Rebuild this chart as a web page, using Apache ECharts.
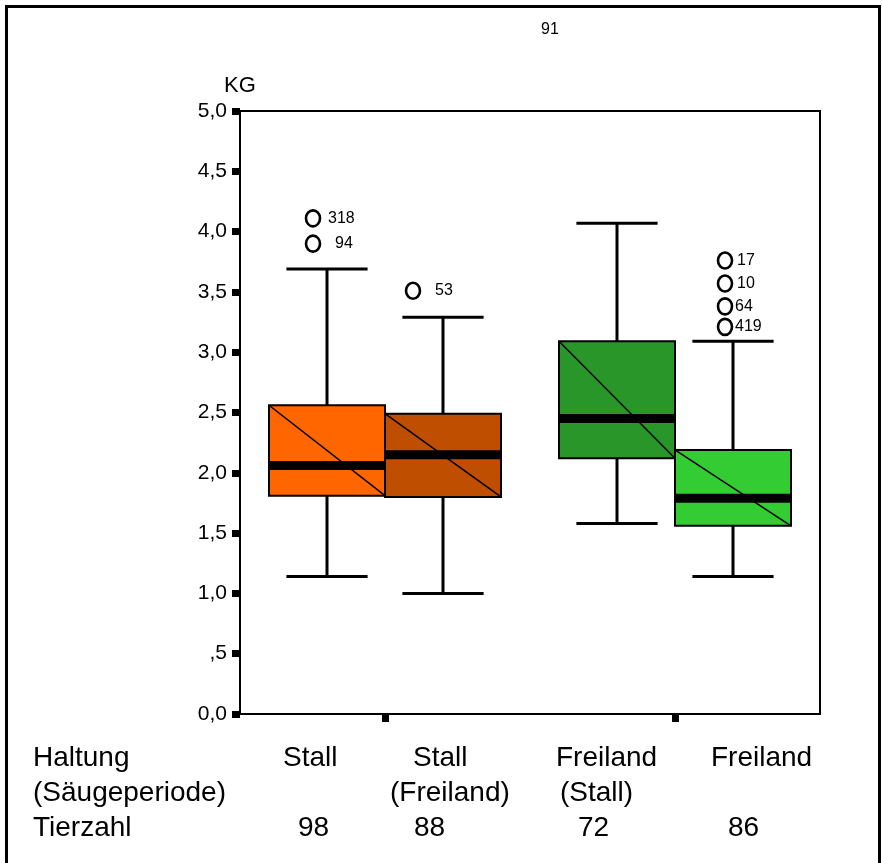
<!DOCTYPE html>
<html><head><meta charset="utf-8">
<script src="https://cdn.jsdelivr.net/npm/echarts@6/dist/echarts.min.js"></script>
<style>html,body{margin:0;padding:0;background:#fff}#c{width:882px;height:863px}</style>
</head><body><div id="c"></div>
<script>
// ---- data ----
const clusters = ['Stall', 'Freiland'];
const clusterIndex = [0, 0, 1, 1];
const subIndex = [0, 1, 0, 1];
const whiskerLow = [1.14, 1.00, 1.58, 1.14];
const q1 = [1.81, 1.80, 2.12, 1.56];
const median = [2.06, 2.15, 2.45, 1.79];
const q3 = [2.56, 2.49, 3.09, 2.19];
const whiskerHigh = [3.69, 3.29, 4.07, 3.09];
const tierzahl = [98, 88, 72, 86];
const outlierBox = [0, 0, 1, 3, 3, 3, 3];
const outlierValue = [4.11, 3.90, 3.51, 3.76, 3.57, 3.38, 3.21];
const outlierId = ['318', '94', '53', '17', '10', '64', '419'];
const rowLabels = ['Haltung', '(Säugeperiode)', 'Tierzahl'];
const haltung = ['Stall', 'Stall', 'Freiland', 'Freiland'];
const saugeperiode = ['', '(Freiland)', '(Stall)', ''];
const yMin = 0, yMax = 5, yStep = 0.5;

// ---- styles ----
const boxColors = ['#ff6600', '#c04e00', '#289628', '#33cc33'];
const outlierDx = [-14, -30, 0, -8];
const outlierLabelDx = [[15, 22], [22], [], [12, 12, 10, 10]];
const colX1 = [283, 413, 556, 711];
const colX2 = [0, 390, 560, 0];
const colX3 = [298, 414, 578, 728];

const boxData = clusterIndex.map((c, i) => [c, subIndex[i], whiskerLow[i], q1[i], median[i], q3[i], whiskerHigh[i]]);
const outData = outlierValue.map((v, i) => [clusterIndex[outlierBox[i]], subIndex[outlierBox[i]], v, i]);

function boxGeom(api, c, s) {
  const center = api.coord([c, 0])[0];
  const bw = api.size([1, 0])[0];
  const w = bw * 0.4;
  const left = center - bw * 0.4 + s * w;
  return {left, w, mid: left + w / 2};
}

function renderBox(params, api) {
  const c = api.value(0), s = api.value(1);
  const g = boxGeom(api, c, s);
  const y = v => api.coord([c, v])[1];
  const yLo = y(api.value(2)), yQ1 = y(api.value(3)), yMed = y(api.value(4)), yQ3 = y(api.value(5)), yHi = y(api.value(6));
  const capW = g.w * 0.7;
  const L = {stroke: '#000', lineWidth: 3};
  return {type: 'group', children: [
    {type: 'line', shape: {x1: g.mid, y1: yHi, x2: g.mid, y2: yQ3}, style: L},
    {type: 'line', shape: {x1: g.mid, y1: yQ1, x2: g.mid, y2: yLo}, style: L},
    {type: 'line', shape: {x1: g.mid - capW / 2, y1: yHi, x2: g.mid + capW / 2, y2: yHi}, style: L},
    {type: 'line', shape: {x1: g.mid - capW / 2, y1: yLo, x2: g.mid + capW / 2, y2: yLo}, style: L},
    {type: 'rect', shape: {x: g.left, y: yQ3, width: g.w, height: yQ1 - yQ3}, style: {fill: boxColors[params.dataIndex], stroke: '#000', lineWidth: 2}},
    {type: 'line', shape: {x1: g.left, y1: yQ3, x2: g.left + g.w, y2: yQ1}, style: {stroke: '#000', lineWidth: 1.5}},
    {type: 'line', shape: {x1: g.left, y1: yMed, x2: g.left + g.w, y2: yMed}, style: {stroke: '#000', lineWidth: 9}}
  ]};
}

function renderOut(params, api) {
  const c = api.value(0), s = api.value(1);
  const idx = api.value(3);
  const b = outlierBox[idx];
  const g = boxGeom(api, c, s);
  const yy = api.coord([c, api.value(2)])[1];
  const cx = g.mid + outlierDx[b];
  const k = outlierBox.slice(0, idx).filter(x => x === b).length;
  const ldx = (outlierLabelDx[b] && outlierLabelDx[b][k] != null) ? outlierLabelDx[b][k] : 14;
  return {type: 'group', children: [
    {type: 'ellipse', shape: {cx: cx, cy: yy, rx: 7, ry: 8}, style: {fill: '#fff', stroke: '#000', lineWidth: 2.6}},
    {type: 'text', style: {x: cx + ldx, y: yy, text: outlierId[idx], fill: '#000', font: '16px "Liberation Sans", Arial, sans-serif', textVerticalAlign: 'middle', textAlign: 'left'}}
  ]};
}

const txtFont = '28px "Liberation Sans", Arial, sans-serif';
const graphics = [
  {type: 'rect', left: 4, top: 4, shape: {x: 0, y: 0, width: 873, height: 900}, style: {fill: 'none', stroke: '#000', lineWidth: 3}, silent: true},
  {type: 'text', x: 541, y: 30, style: {text: '91', font: '16px "Liberation Sans", Arial, sans-serif', fill: '#000', textVerticalAlign: 'middle'}}
];
const rowY = [758, 793, 828];
rowLabels.forEach((t, i) => graphics.push({type: 'text', x: 33, y: rowY[i], style: {text: t, font: txtFont, fill: '#000', textVerticalAlign: 'middle'}}));
haltung.forEach((t, i) => graphics.push({type: 'text', x: colX1[i], y: rowY[0], style: {text: t, font: txtFont, fill: '#000', textVerticalAlign: 'middle'}}));
saugeperiode.forEach((t, i) => { if (t) graphics.push({type: 'text', x: colX2[i], y: rowY[1], style: {text: t, font: txtFont, fill: '#000', textVerticalAlign: 'middle'}}); });
tierzahl.forEach((t, i) => graphics.push({type: 'text', x: colX3[i], y: rowY[2], style: {text: String(t), font: txtFont, fill: '#000', textVerticalAlign: 'middle'}}));

const chart = echarts.init(document.getElementById('c'), null, {renderer: 'canvas'});
chart.setOption({
  animation: false,
  backgroundColor: '#fff',
  grid: {left: 240, right: 62, top: 111, bottom: 149, show: true, borderColor: '#000', borderWidth: 2, backgroundColor: 'transparent'},
  xAxis: {
    type: 'category', data: clusters,
    axisLine: {show: true, lineStyle: {color: '#000', width: 2}},
    axisTick: {show: true, alignWithLabel: true, length: 8, lineStyle: {color: '#000', width: 7}},
    axisLabel: {show: false},
    splitLine: {show: false}
  },
  yAxis: {
    type: 'value', min: yMin, max: yMax, interval: yStep,
    name: 'KG', nameLocation: 'end', nameGap: 14,
    nameTextStyle: {fontFamily: '"Liberation Sans", Arial, sans-serif', fontSize: 22, color: '#000', align: 'center'},
    axisLine: {show: true, lineStyle: {color: '#000', width: 2}},
    axisTick: {show: true, length: 8, lineStyle: {color: '#000', width: 7}},
    axisLabel: {
      color: '#000', fontSize: 21, fontFamily: '"Liberation Sans", Arial, sans-serif', margin: 13,
      formatter: v => v === 0 ? '0,0' : (v < 1 ? ',' + Math.round(v * 10) : v.toFixed(1).replace('.', ','))
    },
    splitLine: {show: false}
  },
  series: [
    {type: 'custom', renderItem: renderBox, data: boxData, encode: {x: 0, y: [2, 3, 4, 5, 6]}, z: 2},
    {type: 'custom', renderItem: renderOut, data: outData, encode: {x: 0, y: 2}, z: 3}
  ],
  graphic: graphics
});
</script>
</body></html>
